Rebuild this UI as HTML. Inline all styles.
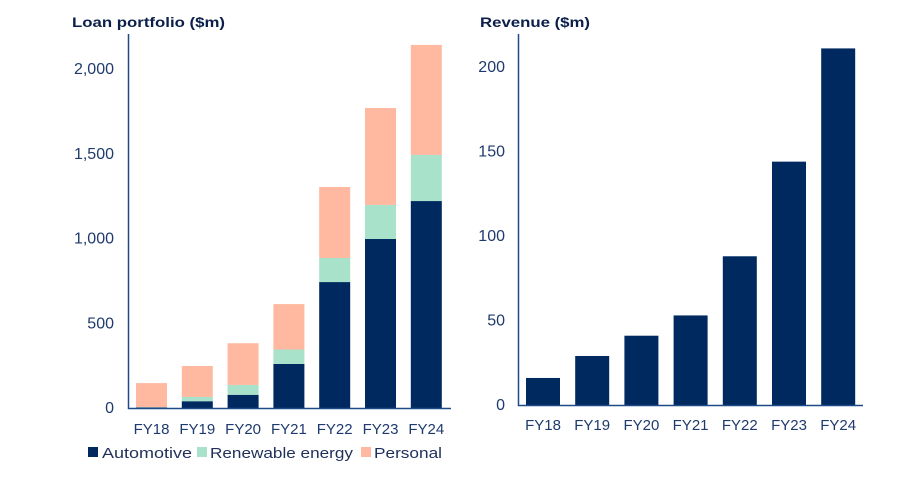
<!DOCTYPE html>
<html><head><meta charset="utf-8"><style>
body{margin:0;background:#fff;font-family:"Liberation Sans",sans-serif}
svg text{font-family:"Liberation Sans",sans-serif}
</style></head><body>
<svg width="916" height="479">
<text x="72" y="27" font-size="14" font-weight="bold" fill="#0b1f4a" textLength="153" lengthAdjust="spacingAndGlyphs">Loan portfolio ($m)</text>
<text x="480" y="27" font-size="14" font-weight="bold" fill="#0b1f4a" textLength="110" lengthAdjust="spacingAndGlyphs">Revenue ($m)</text>
<g id="left"></g><g id="right"></g>
<g font-size="15" fill="#1f2f5a">
<rect x="88" y="447" width="10" height="10" fill="#002960"/>
<text x="102" y="458" textLength="90" lengthAdjust="spacingAndGlyphs">Automotive</text>
<rect x="197" y="447" width="10" height="10" fill="#a8e2cb"/>
<text x="210" y="458" textLength="143" lengthAdjust="spacingAndGlyphs">Renewable energy</text>
<rect x="361" y="447" width="10" height="10" fill="#ffb9a0"/>
<text x="374" y="458" textLength="68" lengthAdjust="spacingAndGlyphs">Personal</text>
</g>
</svg>
<script>
const categories=["FY18","FY19","FY20","FY21","FY22","FY23","FY24"];
const automotive=[3,40,78,260,743,997,1221];
const renewable=[2,25,58,85,142,201,272];
const personal=[142,183,246,268,419,572,649];
const loanTicks=[0,500,1000,1500,2000];
const revenue=[16,29,41,53,88,144,211];
const revTicks=[0,50,100,150,200];
const NS="http://www.w3.org/2000/svg";
function mk(p,t,a){const e=document.createElementNS(NS,t);for(const k in a)e.setAttribute(k,a[k]);p.appendChild(e);return e;}
const L=document.getElementById('left'),R=document.getElementById('right');
const ly=v=>408-v*0.1695, lx=i=>151.5+i*45.8;
loanTicks.forEach(t=>{const e=mk(L,'text',{x:114,y:ly(t)+5,'text-anchor':'end','font-size':16,fill:'#1f3a6e'});e.textContent=t.toLocaleString('en-US');

});
categories.forEach((c,i)=>{
 let b=0;[[automotive,'#002960','automotive'],[renewable,'#a8e2cb','renewable'],[personal,'#ffb9a0','personal']].forEach(([arr,col,n])=>{
  const v=arr[i];const r=mk(L,'rect',{x:lx(i)-15.5,y:ly(b+v),width:31,height:ly(b)-ly(b+v),fill:col});
  
  b+=v;});
 const t=mk(L,'text',{x:lx(i),y:434,'text-anchor':'middle','font-size':15,fill:'#1f3a6e'});t.textContent=c;
 
 
});
let a=mk(L,'path',{d:'M128.5 34V408.5H451',stroke:'#1f4a8a','stroke-width':1.5,fill:'none'});


const ry=v=>405-v*1.69, rx=i=>543+i*49.2;
revTicks.forEach(t=>{const e=mk(R,'text',{x:505,y:ry(t)+5,'text-anchor':'end','font-size':16,fill:'#1f3a6e'});e.textContent=t;

});
categories.forEach((c,i)=>{
 const r=mk(R,'rect',{x:rx(i)-17,y:ry(revenue[i]),width:34,height:ry(0)-ry(revenue[i]),fill:'#002960'});
 
 
 const t=mk(R,'text',{x:rx(i),y:430,'text-anchor':'middle','font-size':15,fill:'#1f3a6e'});t.textContent=c;
 
 
});
a=mk(R,'path',{d:'M518.5 34V405.5H863',stroke:'#1f4a8a','stroke-width':1.5,fill:'none'});


</script>
</body></html>
